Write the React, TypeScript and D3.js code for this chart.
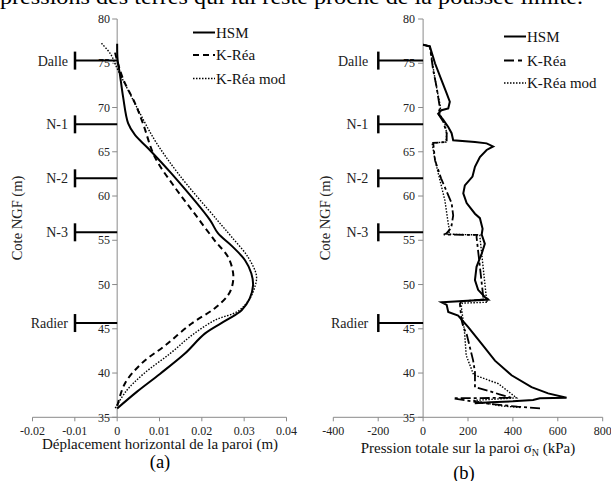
import React from "react";
import * as d3 from "d3";

// ---------- data ----------
const elevTicks = [35, 40, 45, 50, 55, 60, 65, 70, 75, 80];
const dispTicks = [-0.02, -0.01, 0, 0.01, 0.02, 0.03, 0.04];
const dispTickLabels = ["-0.02", "-0.01", "0", "0.01", "0.02", "0.03", "0.04"];
const pressTicks = [-400, -200, 0, 200, 400, 600, 800];
const pressTickLabels = ["-400", "-200", "0", "200", "400", "600", "800"];
const levelNames = ["Dalle", "N-1", "N-2", "N-3", "Radier"];
const levelElev = [75.3, 68.1, 62.0, 55.9, 45.65];
const seriesNames = ["HSM", "K-Réa", "K-Réa mod"];

// displacement (m), elevation (m)
const dispHSM: [number, number][] = [
  [0, 77.2], [0.0001, 75.4], [0.0006, 73.9], [0.0014, 71.2], [0.0026, 68.2],
  [0.0042, 66.9], [0.0073, 65.4], [0.0128, 62.55], [0.0219, 57.3], [0.0238, 55.8],
  [0.027, 54.4], [0.0302, 52.75], [0.0317, 51.25], [0.0321, 49.9], [0.0313, 48.4],
  [0.0294, 47.1], [0.0258, 45.97], [0.0207, 44.45], [0.016, 42.2], [0.0101, 39.9],
  [0.0047, 37.9], [0, 36.0],
];
const dispKRea: [number, number][] = [
  [-0.0005, 76.2], [0, 75.3], [0.0015, 73.1], [0.0042, 70.5], [0.0061, 68.2],
  [0.0089, 64.4], [0.0136, 61.0], [0.0183, 58.0], [0.023, 55.0], [0.0262, 53.1],
  [0.0274, 51.25], [0.0272, 49.9], [0.0262, 48.8], [0.023, 47.3], [0.0176, 45.6],
  [0.0113, 43.1], [0.0058, 41.1], [0.0018, 38.8], [0, 36.2],
];
const dispKReaMod: [number, number][] = [
  [-0.0037, 77.25], [-0.0015, 76.0], [0, 74.4], [0.0018, 72.7], [0.005, 69.7],
  [0.0089, 66.3], [0.0144, 62.55], [0.0236, 57.3], [0.027, 55.4], [0.0309, 53.1],
  [0.0329, 51.0], [0.0325, 49.7], [0.0313, 48.4], [0.0286, 47.0], [0.0231, 45.97],
  [0.0176, 44.25], [0.0125, 42.2], [0.0062, 39.9], [0.0022, 38.0], [-0.0005, 36.0],
];

// total pressure (kPa), elevation (m)
const pressHSM: [number, number][] = [
  [0, 77.1], [30, 76.9], [53, 75], [82, 73.1], [105, 71.6], [119, 70.65],
  [112, 69.9], [82, 69.7], [67, 69.3], [90, 68.6], [112, 67.8], [127, 67.1],
  [134, 66.3], [231, 66.1], [283, 65.95], [312, 65.6], [283, 65.2], [253, 64.4],
  [231, 63.3], [220, 62.2], [186, 61.2], [179, 60.3], [194, 59.2], [231, 58.0],
  [253, 57.5], [265, 56.3], [261, 55.65], [275, 54.6], [261, 53.5], [238, 52.0],
  [231, 50.5], [245, 49.4], [275, 48.6], [290, 48.3], [82, 48.0], [105, 47.7],
  [112, 46.9], [156, 46.5], [201, 45.2], [261, 43.3], [320, 41.4], [394, 39.75],
  [483, 38.4], [557, 37.7], [639, 37.2], [520, 37.15], [490, 36.95], [400, 36.8],
  [300, 36.7], [230, 36.6],
];
const pressKRea: [number, number][] = [
  [0, 77.1], [30, 76.9], [45, 74.2], [60, 72.35], [75, 69.9], [67, 69.3],
  [90, 68.4], [105, 67.1], [105, 66.1], [45, 66.0], [53, 64.05], [80, 62.0],
  [105, 60.5], [127, 59.2], [134, 57.8], [125, 56.4], [105, 55.8], [92, 55.65],
  [240, 55.6], [238, 55.4], [253, 52.0], [268, 48.6], [290, 48.35], [170, 48.1],
  [164, 47.8], [171, 46.0], [179, 45.2], [194, 44.4], [223, 41.4], [231, 40.1],
  [231, 38.4], [283, 38.05], [340, 37.6], [394, 37.2], [134, 37.15], [216, 36.8],
  [300, 36.5], [420, 36.2], [528, 36.0],
];
const pressKReaMod: [number, number][] = [
  [0, 77.1], [30, 76.9], [48, 74.0], [62, 72.0], [78, 70.0], [72, 69.4],
  [97, 68.2], [105, 67.1], [102, 66.1], [40, 66.0], [53, 64.05], [75, 61.8],
  [97, 59.5], [112, 56.9], [119, 55.95], [100, 55.7], [253, 55.6], [253, 55.4],
  [283, 48.2], [288, 48.0], [175, 47.9], [170, 47.5], [178, 46.0], [185, 44.5],
  [192, 42.0], [225, 39.8], [335, 38.8], [416, 37.2], [223, 36.9], [342, 36.3],
  [439, 36.1],
];

// ---------- layout ----------
const FONT = "Liberation Serif";
const yTop = 19;
const yBottom = 417.3;
const yScale = d3.scaleLinear().domain([35, 80]).range([yBottom, yTop]);

type PanelProps = {
  xScale: d3.ScaleLinear<number, number>;
  ticks: number[];
  tickLabels: string[];
  series: [number, number][][];
  styles: { dash: string; width: number }[];
  legendX: number;
  legendY: number[];
  legendDash: string[];
  barX: number;
  labelGap: number;
  tickLabelX: number;
  yTitleX: number;
  xTitle: React.ReactNode;
  xTitleY: number;
  xTitleX: number;
  letter: string;
  letterX: number;
  letterY: number;
  curve: d3.CurveFactory;
};

function Panel(p: PanelProps) {
  const x0 = p.xScale(0);
  const [xMin, xMax] = p.xScale.range();
  const line = d3
    .line<[number, number]>()
    .x((d) => p.xScale(d[0]))
    .y((d) => yScale(d[1]))
    .curve(p.curve);
  const axisColor = "#8a8a8a";
  const tf = { fontFamily: FONT };
  return (
    <g>
      {/* axes */}
      <line x1={x0} x2={x0} y1={yTop} y2={yBottom} stroke={axisColor} strokeWidth={1} />
      <line x1={xMin} x2={xMax} y1={yBottom} y2={yBottom} stroke={axisColor} strokeWidth={1} />
      {elevTicks.map((t) => (
        <g key={"y" + t}>
          <line x1={x0 - 5} x2={x0} y1={yScale(t)} y2={yScale(t)} stroke={axisColor} />
          <text style={tf} x={p.tickLabelX} y={yScale(t)} dy="0.35em" textAnchor="end" fontSize={12} fill="#222">
            {t}
          </text>
        </g>
      ))}
      {p.ticks.map((t, i) => (
        <g key={"x" + t}>
          <line x1={p.xScale(t)} x2={p.xScale(t)} y1={yBottom} y2={yBottom + 4} stroke={axisColor} />
          <text style={tf} x={p.xScale(t)} y={434.5} textAnchor="middle" fontSize={12} fill="#222">
            {p.tickLabels[i]}
          </text>
        </g>
      ))}
      {/* level markers */}
      {levelElev.map((z, i) => (
        <g key={"lv" + i}>
          <line x1={p.barX} x2={x0} y1={yScale(z)} y2={yScale(z)} stroke="#000" strokeWidth={2} />
          <line x1={p.barX} x2={p.barX} y1={yScale(z) - 9} y2={yScale(z) + 9} stroke="#000" strokeWidth={2.5} />
          <text style={tf} x={p.barX - p.labelGap} y={yScale(z)} dy="0.35em" textAnchor="end" fontSize={14} fill="#222">
            {levelNames[i]}
          </text>
        </g>
      ))}
      {/* curves */}
      {p.series.map((s, i) => (
        <path
          key={"s" + i}
          d={line(s) || ""}
          fill="none"
          stroke="#000"
          strokeWidth={p.styles[i].width}
          strokeDasharray={p.styles[i].dash}
        />
      ))}
      {/* legend */}
      {seriesNames.map((n, i) => (
        <g key={"lg" + i}>
          <line
            x1={p.legendX}
            x2={p.legendX + 22}
            y1={p.legendY[i]}
            y2={p.legendY[i]}
            stroke="#000"
            strokeWidth={p.styles[i].width}
            strokeDasharray={p.legendDash[i]}
          />
          <text style={tf} x={p.legendX + 23} y={p.legendY[i]} dy="0.35em" fontSize={15} fill="#111">
            {n}
          </text>
        </g>
      ))}
      {/* titles */}
      <text
        style={tf}
        transform={`translate(${p.yTitleX},218) rotate(-90)`}
        textAnchor="middle"
        dy="0.35em"
        fontSize={14.5}
        fill="#222"
      >
        Cote NGF (m)
      </text>
      <text style={tf} x={p.xTitleX} y={p.xTitleY} textAnchor="middle" fontSize={15} fill="#111">
        {p.xTitle}
      </text>
      <text style={tf} x={p.letterX} y={p.letterY} textAnchor="middle" fontSize={18.5} fill="#000">
        {p.letter}
      </text>
    </g>
  );
}

export default function App() {
  const xDisp = d3.scaleLinear().domain([-0.02, 0.04]).range([32.5, 286.5]);
  const xPress = d3.scaleLinear().domain([-400, 800]).range([333.3, 602.7]);
  return (
    <svg
      width={611}
      height={481}
      style={{ position: "absolute", left: 0, top: 0, background: "#fff", fontFamily: FONT }}
    >
      <rect width={611} height={481} fill="#fff" />
      <text
        style={{ fontFamily: FONT }}
        x={0}
        y={4}
        fontSize={21}
        textLength={583}
        lengthAdjust="spacingAndGlyphs"
        fill="#000"
      >
        pressions des terres qui lui reste proche de la poussée limite.
      </text>
      <Panel
        xScale={xDisp}
        ticks={dispTicks}
        tickLabels={dispTickLabels}
        series={[dispHSM, dispKRea, dispKReaMod]}
        styles={[
          { dash: "", width: 2 },
          { dash: "6,4", width: 2 },
          { dash: "1.5,1.5", width: 1.4 },
        ]}
        legendX={193}
        legendY={[32.5, 55, 78.5]}
        legendDash={["", "6,4", "1.5,1.5"]}
        barX={75}
        labelGap={7}
        tickLabelX={110}
        yTitleX={17}
        xTitle={"Déplacement horizontal de la paroi (m)"}
        xTitleX={160}
        xTitleY={449}
        letter="(a)"
        letterX={160}
        letterY={468}
        curve={d3.curveCatmullRom.alpha(0.5)}
      />
      <Panel
        xScale={xPress}
        ticks={pressTicks}
        tickLabels={pressTickLabels}
        series={[pressHSM, pressKRea, pressKReaMod]}
        styles={[
          { dash: "", width: 2 },
          { dash: "10,3,3,3", width: 1.8 },
          { dash: "1.5,1.5", width: 1.4 },
        ]}
        legendX={504}
        legendY={[36.5, 60.5, 83]}
        legendDash={["", "10,4,4,4", "1.5,1.5"]}
        barX={378.3}
        labelGap={10}
        tickLabelX={415}
        yTitleX={325}
        xTitle={
          <>
            Pression totale sur la paroi σ
            <tspan fontSize={10} dy={3}>N</tspan>
            <tspan dy={-3}> (kPa)</tspan>
          </>
        }
        xTitleX={468}
        xTitleY={453}
        letter="(b)"
        letterX={464}
        letterY={479}
        curve={d3.curveLinear}
      />
    </svg>
  );
}
